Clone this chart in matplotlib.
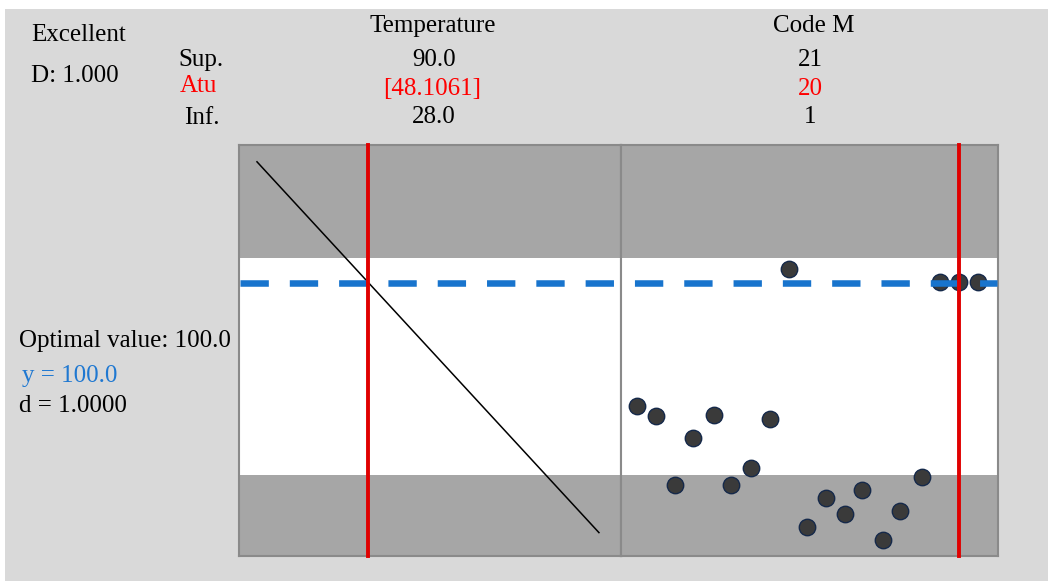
import matplotlib
matplotlib.use('Agg')
import matplotlib.pyplot as plt
import numpy as np
from matplotlib.patches import Rectangle
from matplotlib.lines import Line2D
from matplotlib.transforms import blended_transform_factory

# values
temp_x = [28.0, 90.0]
temp_y = [130.3, 37.6]
temp_cur = 48.1061

code_x = [1.00, 2.14, 3.24, 4.30, 5.58, 6.56, 7.73, 8.86, 9.99, 11.07,
          12.19, 13.29, 14.29, 15.51, 16.53, 17.81, 18.89, 20.00, 21.15]
code_y = [69.3, 66.7, 49.6, 61.2, 67.1, 49.6, 53.75, 66.1, 103.5, 38.9,
          46.3, 42.3, 48.25, 35.7, 42.9, 51.4, 100.3, 100.3, 100.2]
code_cur = 20

y_opt = 100.0
band_lo, band_hi = 52.0, 106.25
ylim = (31.75, 134.5)

W, H = 1048, 581
fig = plt.figure(figsize=(W / 100, H / 100), dpi=100)
fig.patch.set_facecolor('white')

def fx(px):
    return px / W

def fy(py):
    return 1 - py / H

# grey background panel
fig.add_artist(Rectangle((fx(5), 0), 1 - fx(5), fy(9), transform=fig.transFigure,
                         facecolor='#d9d9d9', edgecolor='none', zorder=-10))

plt.rcParams['font.family'] = ['Liberation Serif', 'DejaVu Serif']
fs = 18

ax1 = fig.add_axes([fx(239), fy(556), fx(621) - fx(239), fy(145) - fy(556)])
ax2 = fig.add_axes([fx(621), fy(556), fx(998) - fx(621), fy(145) - fy(556)])

band_grey = '#a6a6a6'
frame_grey = '#8a8a8a'
for ax in (ax1, ax2):
    ax.set_facecolor('white')
    ax.set_ylim(*ylim)
    ax.axhspan(ylim[0], band_lo, color=band_grey, lw=0, zorder=0)
    ax.axhspan(band_hi, ylim[1], color=band_grey, lw=0, zorder=0)
    ax.set_xticks([])
    ax.set_yticks([])
    for sp in ax.spines.values():
        sp.set_color(frame_grey)
        sp.set_linewidth(1.5)

ax1.set_xlim(24.74, 94.0)
ax2.set_xlim(0.074, 22.32)

# left panel: response curve for temperature
ax1.plot(temp_x, temp_y, color='black', lw=1.1, zorder=2)

# right panel: code M
ax2.scatter(code_x, code_y, s=140, color='#3a3a3a', edgecolors='#15294a',
            linewidths=1.0, zorder=2, clip_on=False)

# dashed optimal line running across both panels
lw_d = 4.7
tr = blended_transform_factory(fig.transFigure, ax1.transData)
dash = Line2D([fx(240), fx(997)], [y_opt, y_opt], transform=tr, color='#1874cd',
              lw=lw_d, linestyle=(0, (20.4 / lw_d, 15.1 / lw_d)), zorder=4)
fig.add_artist(dash)
# red lines on top of the dashes
for ax, xv in ((ax1, temp_cur), (ax2, code_cur)):
    px = ax.transData.transform((xv, 0))[0]
    fig.add_artist(Line2D([px / W, px / W], [fy(556), fy(145)], transform=fig.transFigure,
                          color='#e00000', lw=2.8, zorder=6))

def txt(x, y, s, color='black', ha='left'):
    fig.text(fx(x), fy(y), s, color=color, ha=ha, va='baseline', fontsize=fs)

red = '#ff0000'
txt(31, 40.7, 'Excellent')
txt(31, 81.7, 'D: 1.000')
txt(178, 66, 'Sup.')
txt(180, 92.5, 'Atu', color=red)
txt(184, 124.5, 'Inf.')

txt(433, 32.3, 'Temperature', ha='center')
txt(434, 65.7, '90.0', ha='center')
txt(432, 95, '[48.1061]', color=red, ha='center')
txt(434, 123, '28.0', ha='center')

txt(814, 32.3, 'Code M', ha='center')
txt(810, 65.7, '21', ha='center')
txt(810, 95, '20', color=red, ha='center')
txt(810, 123.3, '1', ha='center')

txt(19, 346.7, 'Optimal value: 100.0')
txt(22, 381.7, 'y = 100.0', color='#1f78d1')
txt(19, 411.7, 'd = 1.0000')

fig.savefig('out.png', dpi=100, facecolor=fig.get_facecolor())
